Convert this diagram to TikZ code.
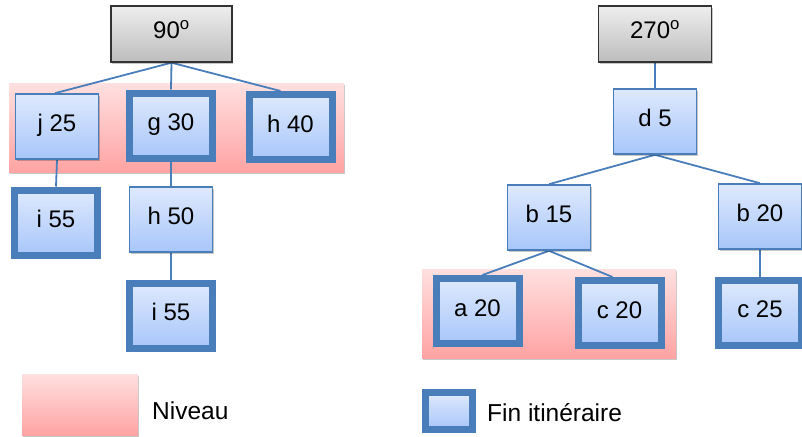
\documentclass[tikz,border=0pt]{standalone}
\usepackage{fontspec}
\setmainfont{Liberation Sans}
\usetikzlibrary{shadows}
\pgfdeclarelayer{bands}
\pgfdeclarelayer{links}
\pgfsetlayers{bands,links,main}
\definecolor{edgeblue}{HTML}{4A7EBB}
\definecolor{boxtop}{HTML}{DEE9FD}
\definecolor{boxbot}{HTML}{A8C6FA}
\definecolor{graytop}{HTML}{EEEEEE}
\definecolor{graybot}{HTML}{BDBDBD}
\definecolor{bandtop}{HTML}{FFE0E0}
\definecolor{bandbot}{HTML}{FFA3A3}
\tikzset{
  shd/.style={drop shadow={shadow xshift=1.2pt,shadow yshift=-2.2pt,fill=black,opacity=0.22}},
  item/.style={shd,rectangle,draw=edgeblue,line width=1.6pt,top color=boxtop,bottom color=boxbot,
    minimum width=83pt,minimum height=65pt,inner sep=0pt,text height=17pt,text depth=7pt,
    font=\fontsize{24}{28}\selectfont},
  endbox/.style={item,line width=7pt},
  rootbox/.style={shd,rectangle,draw=black!80,line width=1.4pt,top color=graytop,bottom color=graybot,
    minimum height=56pt,inner sep=0pt,text height=17pt,text depth=7pt,
    font=\fontsize{24}{28}\selectfont},
  band/.style={shd,rectangle,top color=bandtop,bottom color=bandbot,inner sep=0pt},
  link/.style={draw=edgeblue,line width=1.8pt},
  legtext/.style={anchor=west,inner sep=0pt,font=\fontsize{24.5}{28}\selectfont}
}
\begin{document}
\begin{tikzpicture}[x=1pt,y=-1pt]
\useasboundingbox (0,0) rectangle (802,436);
% bands
\begin{pgfonlayer}{bands}
\node[band,minimum width=335pt,minimum height=89pt] (bandL) at (176.5,127.5) {};
\node[band,minimum width=254pt,minimum height=89pt] (bandR) at (549,313.5) {};
\end{pgfonlayer}
% left tree nodes
\node[rootbox,minimum width=121pt] (r90) at (171.5,34) {90\textsuperscript{o}};
\node[item] (j25) at (57,126.5) {j 25};
\node[endbox] (g30) at (171,125.5) {g 30};
\node[endbox] (h40) at (290.5,127) {h 40};
\node[endbox] (i55a) at (56,222.5) {i 55};
\node[item] (h50) at (171,219.5) {h 50};
\node[endbox] (i55b) at (171,315.5) {i 55};
% right tree nodes
\node[rootbox,minimum width=113pt] (r270) at (655,34) {270\textsuperscript{o}};
\node[item] (d5) at (655,121.5) {d 5};
\node[item] (b15) at (549,217.5) {b 15};
\node[item] (b20) at (760,216.5) {b 20};
\node[endbox] (a20) at (477.5,311) {a 20};
\node[endbox] (c20) at (619.5,313) {c 20};
\node[endbox] (c25) at (760,312.5) {c 25};
% connectors
\begin{pgfonlayer}{links}
\draw[link] (r90.south) -- ([xshift=-2pt]j25.north);
\draw[link] (r90.south) -- (g30.north);
\draw[link] (r90.south) -- ([xshift=-10pt]h40.north);
\draw[link] (j25.south) -- (i55a.north);
\draw[link] (g30.south) -- (h50.north);
\draw[link] (h50.south) -- (i55b.north);
\draw[link] (r270.south) -- (d5.north);
\draw[link] (d5.south) -- (b15.north);
\draw[link] (d5.south) -- (b20.north);
\draw[link] (b15.south) -- ([xshift=5pt]a20.north);
\draw[link] (b15.south) -- ([xshift=-7pt]c20.north);
\draw[link] (b20.south) -- (c25.north);
\end{pgfonlayer}
% legend
\node[band,minimum width=116pt,minimum height=61pt] (legN) at (80,404.5) {};
\node[legtext] (legNt) at (152,411) {Niveau};
\node[endbox,minimum width=47pt,minimum height=37pt] (legF) at (449,411) {};
\node[legtext] (legFt) at (487,413) {Fin itinéraire};
\end{tikzpicture}
\end{document}
